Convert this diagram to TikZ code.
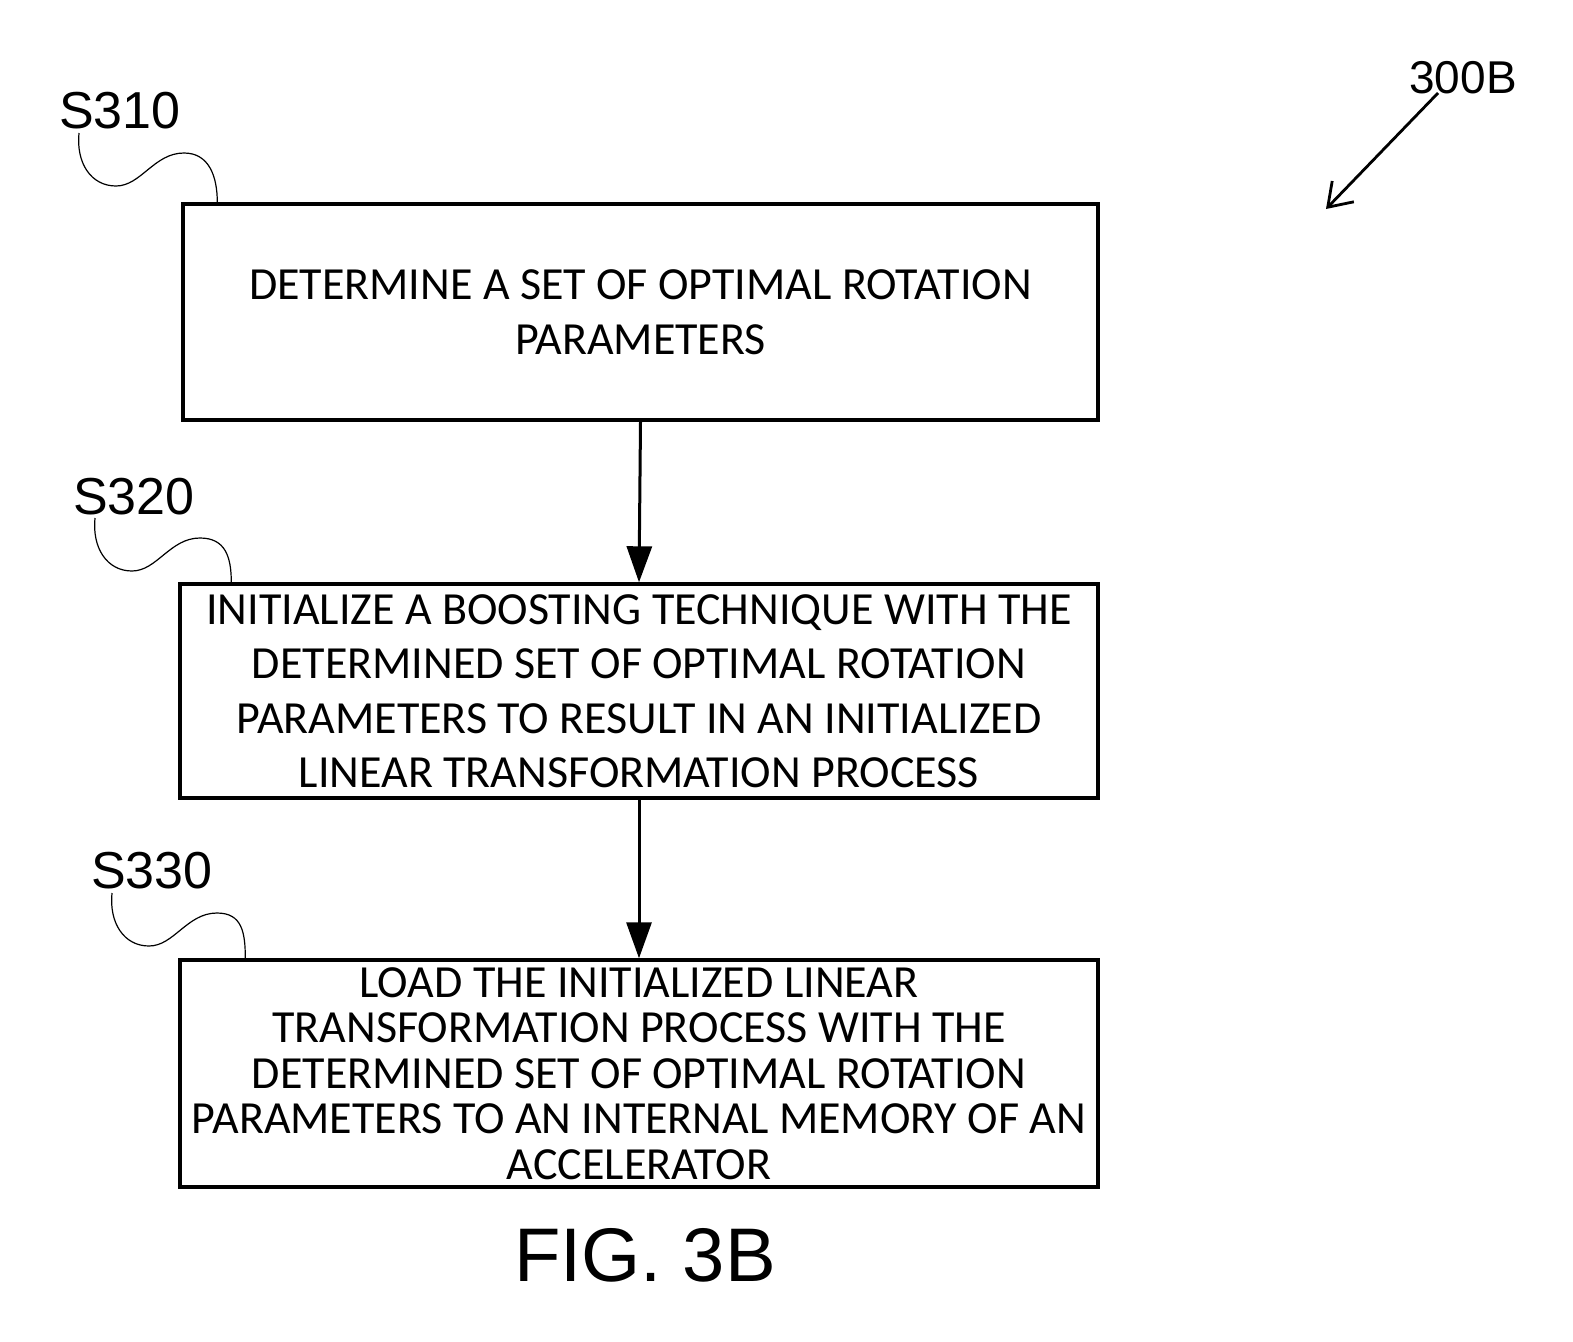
\documentclass[tikz,border=0pt]{standalone}
\usepackage{fontspec}
\newfontfamily\boxfont{Carlito}
\newfontfamily\labfont{Liberation Sans}
\usetikzlibrary{arrows.meta,calc}
\tikzset{
  stepbox/.style={draw, line width=3.4pt, inner sep=0pt, align=center,
    font=\boxfont\fontsize{46}{54.5}\selectfont},
  steplabel/.style={inner sep=0pt, font=\labfont\fontsize{52}{60}\selectfont},
  flow/.style={line width=3pt, -{Triangle[length=36pt,width=25pt]}},
  squig/.style={line width=1.2pt},
  refarrow/.style={line width=2.8pt, -{Straight Barb[length=22pt,width=30pt,line width=2.8pt]}}
}
\begin{document}
\begin{tikzpicture}[x=1pt,y=-1pt]
\useasboundingbox (0,0) rectangle (1573,1341);
% boxes
\node[stepbox, minimum width=915pt, minimum height=216pt] (b1) at (640.5,312)
  {DETERMINE A SET OF OPTIMAL ROTATION\\PARAMETERS};
\node[stepbox, minimum width=918pt, minimum height=214pt] (b2) at (639,691)
  {INITIALIZE A BOOSTING TECHNIQUE WITH THE\\DETERMINED SET OF OPTIMAL ROTATION\\PARAMETERS TO RESULT IN AN INITIALIZED\\LINEAR TRANSFORMATION PROCESS};
\node[stepbox, minimum width=918pt, minimum height=227pt,
  font=\boxfont\fontsize{46}{45.5}\selectfont] (b3) at (639,1073.5)
  {LOAD THE INITIALIZED LINEAR\\TRANSFORMATION PROCESS WITH THE\\DETERMINED SET OF OPTIMAL ROTATION\\PARAMETERS TO AN INTERNAL MEMORY OF AN\\ACCELERATOR};
% flow arrows
\draw[flow] (b1.south) -- (b2.north);
\draw[flow] (b2.south) -- (b3.north);
% step labels
\node[steplabel] (l1) at (120,111) {S310};
\node[steplabel] (l2) at (134,497) {S320};
\node[steplabel] (l3) at (152,871) {S330};
\coordinate (s1) at (79,133);
\coordinate (s2) at (95,518);
\coordinate (s3) at (112,893);
\coordinate (e1) at ($(b1.north west)+(36,0)$);
\coordinate (e2) at ($(b2.north west)+(53,0)$);
\coordinate (e3) at ($(b3.north west)+(67,0)$);
\foreach \i in {1,2,3}{
  \draw[squig] (s\i) .. controls +(-3,30) and +(-25,0) .. ++(37,53)
    .. controls +(25,0) and +(-30,0) .. ++(68,-33)
    .. controls +(25,0) and +(0,-26) .. (e\i);
}
% figure reference
\node[inner sep=0pt, font=\labfont\fontsize{46}{52}\selectfont] (ref) at (1463,78) {300B};
\coordinate (r1) at (1438,93);
\coordinate (r2) at (1326,209);
\draw[refarrow] (r1) -- (r2);
% caption
\node[inner sep=0pt, font=\labfont\fontsize{76}{85}\selectfont] (cap) at (645,1255) {FIG. 3B};
\end{tikzpicture}
\end{document}
